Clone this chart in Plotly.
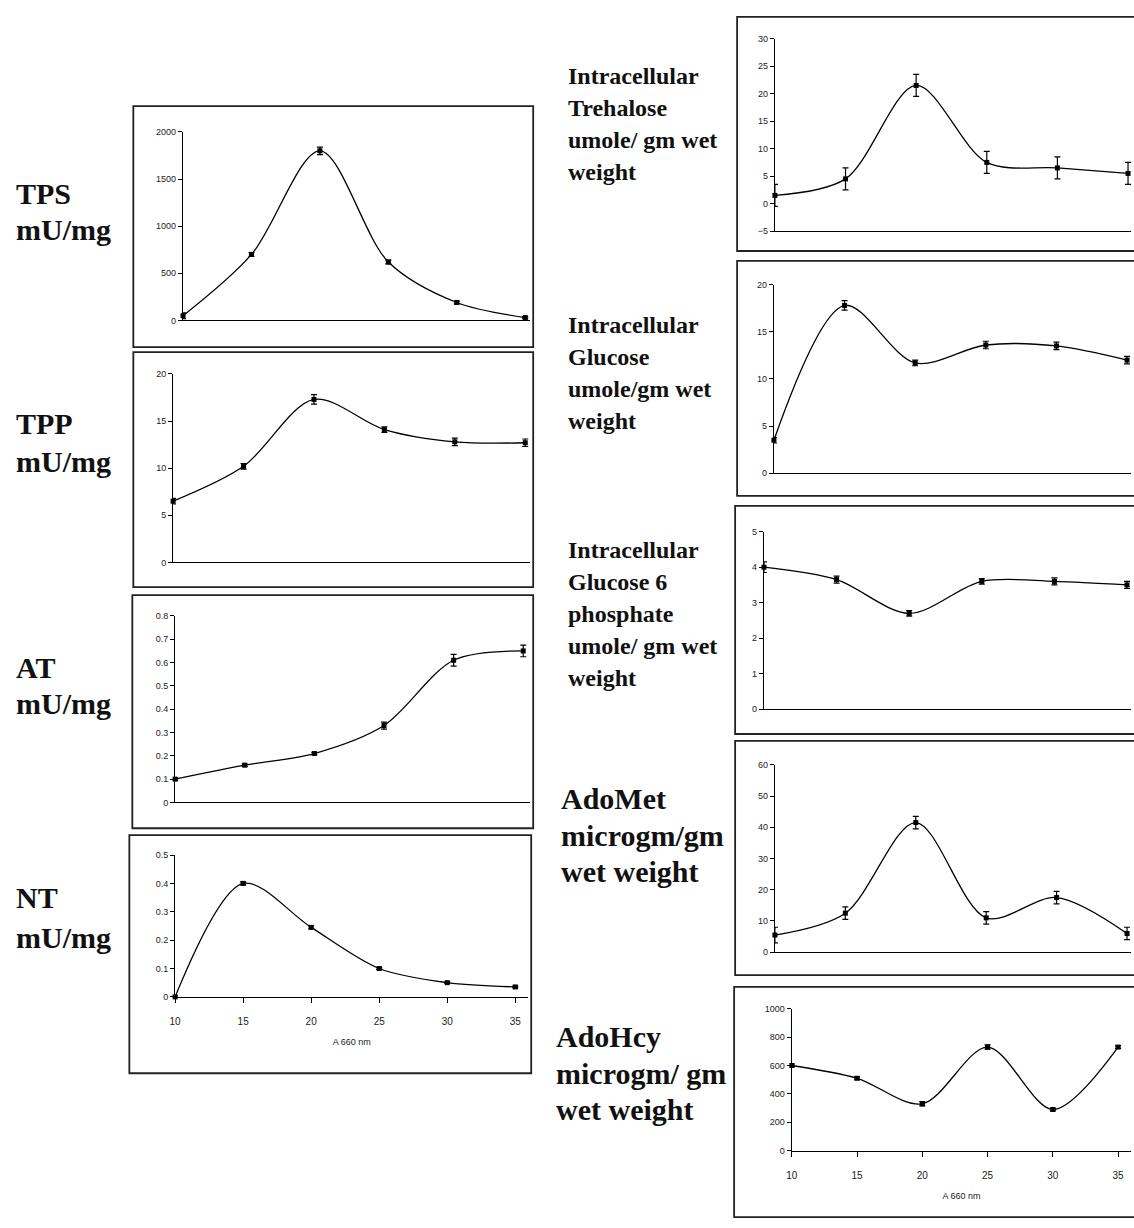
import plotly.graph_objects as go

W, H = 1134, 1228

# ---------------- data ----------------
x_vals = [10, 15, 20, 25, 30, 35]
x_ticks = [10, 15, 20, 25, 30, 35]

tps = [50, 700, 1800, 620, 190, 30]
tps_err = [30, 20, 40, 20, 15, 10]
tpp = [6.5, 10.2, 17.3, 14.1, 12.8, 12.7]
tpp_err = [0.3, 0.3, 0.5, 0.3, 0.4, 0.4]
at = [0.10, 0.16, 0.21, 0.33, 0.61, 0.65]
at_err = [0.005, 0.005, 0.005, 0.015, 0.025, 0.025]
nt = [0.0, 0.40, 0.245, 0.10, 0.05, 0.035]
nt_err = [0.003, 0.005, 0.005, 0.003, 0.003, 0.003]

trehalose = [1.5, 4.5, 21.5, 7.5, 6.5, 5.5]
trehalose_err = [2.0, 2.0, 2.0, 2.0, 2.0, 2.0]
glucose = [3.5, 17.8, 11.7, 13.6, 13.5, 12.0]
glucose_err = [0.3, 0.5, 0.3, 0.4, 0.4, 0.4]
g6p = [4.0, 3.65, 2.7, 3.6, 3.6, 3.5]
g6p_err = [0.15, 0.1, 0.08, 0.08, 0.1, 0.1]
adomet = [5.5, 12.5, 41.5, 11.0, 17.5, 6.0]
adomet_err = [2.5, 2.0, 2.0, 2.0, 2.0, 2.0]
adohcy = [600, 510, 330, 730, 290, 730]
adohcy_err = [10, 10, 15, 15, 10, 10]

labels = [
    ["TPS", "mU/mg"],
    ["TPP", "mU/mg"],
    ["AT", "mU/mg"],
    ["NT", "mU/mg"],
    ["Intracellular", "Trehalose", "umole/ gm wet", "weight"],
    ["Intracellular", "Glucose", "umole/gm wet", "weight"],
    ["Intracellular", "Glucose 6", "phosphate", "umole/ gm wet", "weight"],
    ["AdoMet", "microgm/gm", "wet weight"],
    ["AdoHcy", "microgm/ gm", "wet weight"],
]
x_title = "A 660 nm"

# ---------------- layout helpers ----------------
def px(x):
    return x / W

def py(y):
    return 1 - y / H

panels = [
    dict(y=tps, e=tps_err, yr=[0, 2000], dt=500, frame=(128, 102, 530, 345), x10=178, x35=522, yt=128, yb=318, xl=False,
         lab=(8, 190), fs=30, gap=36),
    dict(y=tpp, e=tpp_err, yr=[0, 20], dt=5, frame=(128, 350, 530, 587), x10=168, x35=522, yt=372, yb=562, xl=False,
         lab=(8, 422), fs=30, gap=38),
    dict(y=at, e=at_err, yr=[0, 0.8], dt=0.1, frame=(127, 595, 530, 830), x10=170, x35=520, yt=616, yb=804, xl=False,
         lab=(8, 668), fs=30, gap=36),
    dict(y=nt, e=nt_err, yr=[0, 0.5], dt=0.1, frame=(124, 837, 528, 1077), x10=170, x35=512, yt=857, yb=1000, xl=True,
         lab=(8, 900), fs=30, gap=40),
    dict(y=trehalose, e=trehalose_err, yr=[-5, 30], dt=5, frame=(735, 12, 1140, 248), x10=773, x35=1128, yt=34, yb=228, xl=False,
         lab=(563, 72), fs=24, gap=32),
    dict(y=glucose, e=glucose_err, yr=[0, 20], dt=5, frame=(735, 258, 1140, 495), x10=772, x35=1127, yt=282, yb=472, xl=False,
         lab=(563, 323), fs=24, gap=32),
    dict(y=g6p, e=g6p_err, yr=[0, 5], dt=1, frame=(733, 505, 1140, 735), x10=762, x35=1127, yt=531, yb=710, xl=False,
         lab=(563, 549), fs=24, gap=32.5),
    dict(y=adomet, e=adomet_err, yr=[0, 60], dt=10, frame=(733, 742, 1140, 978), x10=773, x35=1127, yt=766, yb=955, xl=False,
         lab=(556, 800), fs=30, gap=37),
    dict(y=adohcy, e=adohcy_err, yr=[0, 1000], dt=200, frame=(732, 990, 1140, 1222), x10=790, x35=1118, yt=1012, yb=1155, xl=True,
         lab=(551, 1040), fs=30, gap=37),
]

fig = go.Figure()
shapes = []
annotations = []
layout_axes = {}

for i, p in enumerate(panels):
    n = i + 1
    xa = "x" if n == 1 else f"x{n}"
    ya = "y" if n == 1 else f"y{n}"
    fx0, fy0, fx1, fy1 = p["frame"]
    scale = (p["x35"] - p["x10"]) / 25.0
    right_px = min(fx1, W) - 3
    xend = 10 + (right_px - p["x10"]) / scale

    fig.add_trace(go.Scatter(
        x=x_vals, y=p["y"], xaxis=xa, yaxis=ya,
        mode="lines+markers",
        line=dict(color="black", width=1.3, shape="spline", smoothing=0.9),
        marker=dict(color="black", size=5, symbol="square"),
        error_y=dict(type="data", array=p["e"], visible=True, color="black", thickness=1.2, width=3),
        cliponaxis=False, showlegend=False, hoverinfo="x+y",
    ))

    xkey = "xaxis" if n == 1 else f"xaxis{n}"
    ykey = "yaxis" if n == 1 else f"yaxis{n}"
    layout_axes[xkey] = dict(
        domain=[px(p["x10"]), px(right_px)], range=[10, xend], anchor=ya,
        showline=True, linecolor="black", linewidth=1.3, showgrid=False, zeroline=False,
        ticks="outside" if p["xl"] else "", ticklen=5, tickcolor="black",
        tickvals=x_ticks if p["xl"] else [], showticklabels=p["xl"],
        ticklabelstandoff=10,
        tickfont=dict(family="Liberation Sans", size=10, color="#222"),
        title=dict(text=x_title, font=dict(family="Liberation Sans", size=9, color="#222"), standoff=12) if p["xl"] else None,
    )
    layout_axes[ykey] = dict(
        domain=[py(p["yb"]), py(p["yt"])], range=p["yr"], anchor=xa,
        showline=True, linecolor="black", linewidth=1.3, showgrid=False, zeroline=False,
        ticks="outside", ticklen=4, tickcolor="black", dtick=p["dt"], tick0=p["yr"][0],
        tickfont=dict(family="Liberation Sans", size=9, color="#222"),
    )

    shapes.append(dict(type="rect", xref="paper", yref="paper",
                       x0=px(fx0), x1=px(fx1), y0=py(fy1), y1=py(fy0),
                       line=dict(color="#222", width=1.8)))

    lx, ly = p["lab"]
    for j, t in enumerate(labels[i]):
        annotations.append(dict(
            text=f"<b>{t}</b>", xref="paper", yref="paper",
            x=px(lx), y=py(ly + j * p["gap"]), xanchor="left", yanchor="middle",
            showarrow=False, font=dict(family="Liberation Serif", size=p["fs"], color="#111"),
        ))

fig.update_layout(
    width=W, height=H, margin=dict(l=0, r=0, t=0, b=0),
    paper_bgcolor="white", plot_bgcolor="white",
    shapes=shapes, annotations=annotations, showlegend=False,
    **layout_axes,
)

fig.write_html("out.html")
